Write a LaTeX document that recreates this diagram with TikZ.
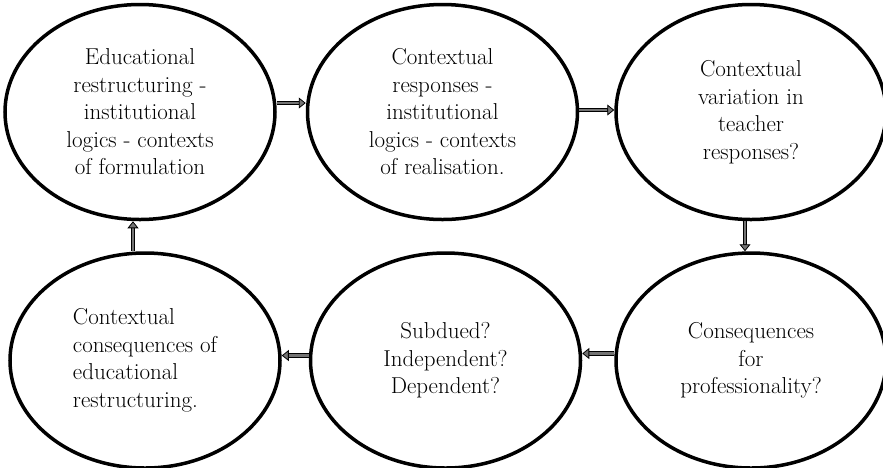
\documentclass[tikz,border=0pt]{standalone}
\usetikzlibrary{positioning,shapes.geometric,arrows.meta}

\begin{document}
\begin{tikzpicture}[every node/.style={draw, ellipse, line width=3.5pt, minimum width=270pt, minimum height=215pt, inner sep=0pt, align=center, font=\fontsize{23}{27.5}\selectfont},
  flow/.style={black!55, line width=2.4pt, -{Triangle[length=7pt,width=11pt,fill=black!55,color=black,line width=0.8pt]}, preaction={draw=black, line width=4.4pt, arrows=-, shorten >=5pt}}]
  \useasboundingbox (0,0) rectangle (883pt,-467pt);
  \node at (140pt,-112pt) (edu) {Educational\\ restructuring -\\ institutional\\ logics - contexts\\ of formulation};
  \node[right=29pt of edu] (resp) {Contextual\\ responses -\\ institutional\\ logics - contexts\\ of realisation.};
  \node[right=35pt of resp] (var) {Contextual\\ variation in\\ teacher\\ responses?};
  \node[below=30pt of var] (prof) {Consequences\\ for\\ professionality?};
  \node[left=32pt of prof] (subd) {Subdued?\\ Independent?\\ Dependent?};
  \node[left=27pt of subd, align=left] (cons) {Contextual\\ consequences of\\ educational\\ restructuring.};
  \draw[flow] ([yshift=9pt]edu.east) -- ([yshift=9pt]resp.west);
  \draw[flow] ([yshift=2pt]resp.east) -- ([yshift=2pt]var.west);
  \draw[flow] ([xshift=-6pt]var.south) -- ([xshift=-6pt]prof.north);
  \draw[flow] ([yshift=7pt]prof.west) -- ([yshift=7pt]subd.east);
  \draw[flow] ([yshift=5pt]subd.west) -- ([yshift=5pt]cons.east);
  \draw[flow] ([xshift=-12pt]cons.north) -- ([xshift=-7pt]edu.south);
\end{tikzpicture}
\end{document}
